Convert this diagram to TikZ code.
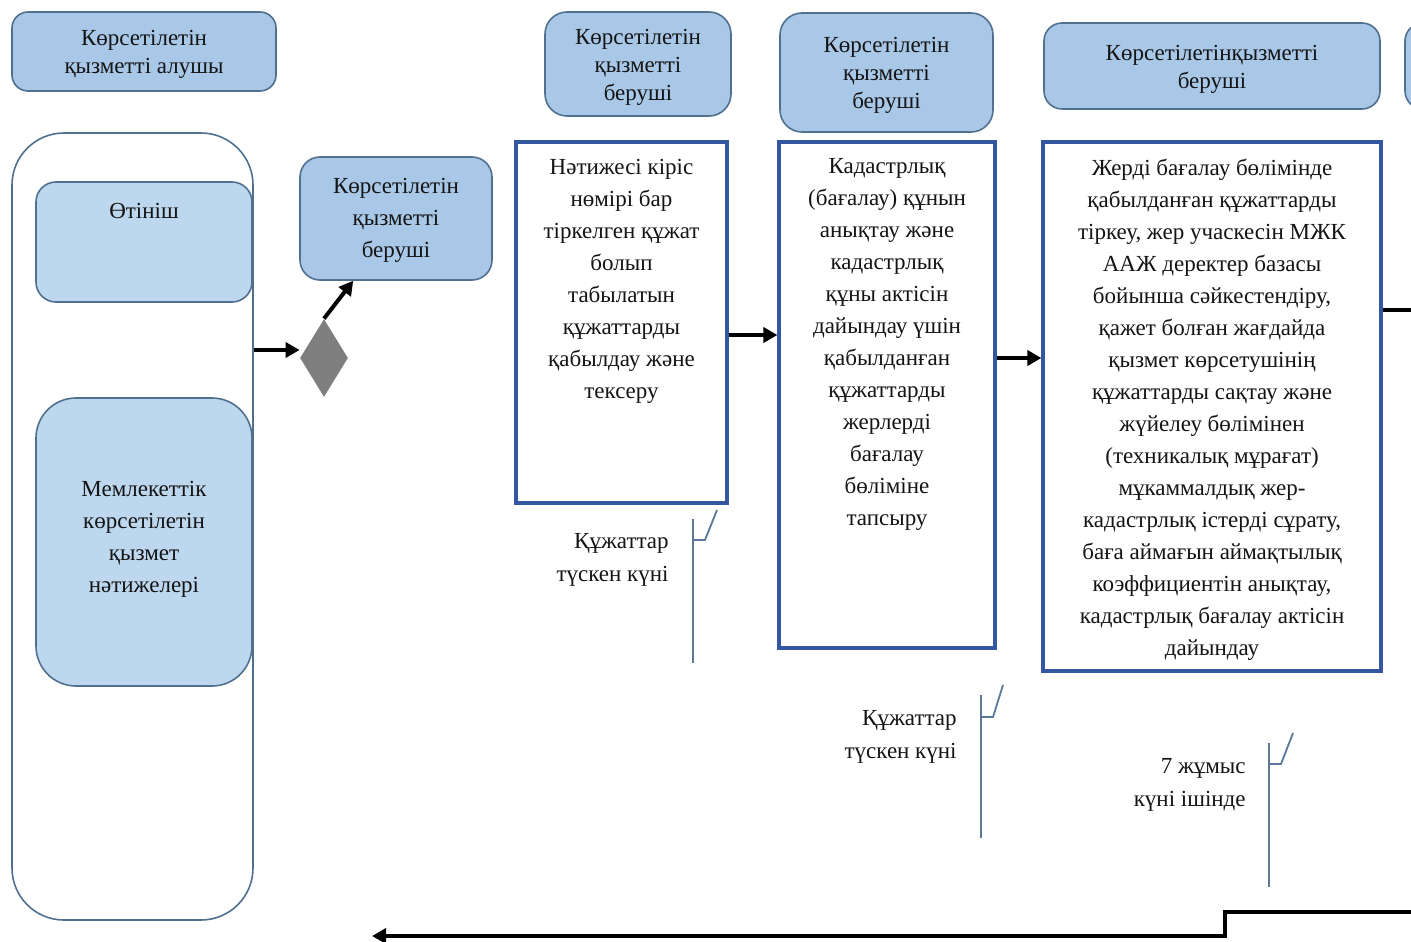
\documentclass[tikz,border=0pt]{standalone}
\usepackage{fontspec}
\setmainfont{Liberation Serif}
\usetikzlibrary{arrows.meta,shapes.geometric,calc}

\definecolor{hdrfill}{HTML}{A9C8E8}
\definecolor{softfill}{HTML}{BDD7EE}
\definecolor{edgegrey}{HTML}{50708F}
\definecolor{stepblue}{HTML}{3556A0}
\definecolor{notegrey}{HTML}{5A7898}
\definecolor{inkdark}{HTML}{141414}
\definecolor{choicegrey}{HTML}{7F7F7F}

\tikzset{
  every node/.style={text=inkdark, font=\fontsize{11.5}{16}\selectfont, inner sep=0pt},
  hdr/.style={draw=edgegrey, line width=0.8pt, fill=hdrfill, rounded corners=9pt, align=center},
  hdrtext/.style={font=\fontsize{11.5}{14}\selectfont},
  soft/.style={draw=edgegrey, line width=0.8pt, fill=softfill, align=center},
  lane/.style={draw=edgegrey, line width=0.8pt, fill=white, rounded corners=26pt},
  stepbox/.style={draw=stepblue, line width=1.6pt, fill=white},
  steptext/.style={align=center, anchor=north},
  flow/.style={draw=black, line width=2pt, -{Triangle[length=7pt,width=7.5pt]}},
  plainflow/.style={draw=black, line width=2pt},
  note/.style={draw=notegrey, line width=0.9pt},
  notetext/.style={align=right, anchor=east, font=\fontsize{11.5}{16.5}\selectfont},
}

\begin{document}
\begin{tikzpicture}[x=0.5pt, y=-0.5pt]
  \useasboundingbox (0,0) rectangle (1411,941);
  \clip (0,0) rectangle (1411,941);

  % lane headers
  \node[hdr, rounded corners=8pt, minimum width=132pt, minimum height=39.5pt] (hA) at (144,51.5) {};
  \node[hdrtext, align=center] (hAt) at ($(hA)+(0,3)$) {Көрсетілетін\\қызметті алушы};
  \node[hdr, rounded corners=11pt, minimum width=93pt, minimum height=52pt] (hB) at (638,64) {};
  \node[hdrtext, align=center] (hBt) at ($(hB)+(0,3)$) {Көрсетілетін\\қызметті\\беруші};
  \node[hdr, rounded corners=11pt, minimum width=106.5pt, minimum height=59.5pt] (hC) at (886.5,72.5) {};
  \node[hdrtext, align=center] (hCt) at ($(hC)+(0,3)$) {Көрсетілетін\\қызметті\\беруші};
  \node[hdr, minimum width=168pt, minimum height=43pt] (hD) at (1212,66) {};
  \node[hdrtext, align=center] (hDt) at ($(hD)+(0,3)$) {Көрсетілетінқызметті\\беруші};
  \node[hdr, minimum width=97pt, minimum height=43pt] (hE) at (1502,66) {};

  % service receiver lane
  \node[lane, minimum width=120.5pt, minimum height=393.5pt] (lane) at (132.5,526.5) {};
  \node[soft, rounded corners=10pt, minimum width=108pt, minimum height=60pt,
        label={[anchor=north, yshift=-11pt]north:Өтініш}] (app) at (144,242) {};
  \node[soft, rounded corners=20pt, minimum width=108pt, minimum height=144pt] (res) at (144,542) {};
  \node[align=center] (rest) at ($(res)+(0,-3)$) {Мемлекеттік\\көрсетілетін\\қызмет\\нәтижелері};

  % decision and first provider
  \node[diamond, fill=choicegrey, draw=none, minimum width=24pt, minimum height=39pt] (dia) at (324,358) {};
  \node[hdr, rounded corners=10pt, minimum width=96pt, minimum height=61.5pt] (prov) at (396,218.5) {};
  \node[align=center] (provt) at ($(prov)+(0,2)$) {Көрсетілетін\\қызметті\\беруші};

  % process steps
  \node[stepbox, minimum width=105.5pt, minimum height=180.5pt] (b1) at (621.5,322.5) {};
  \node[steptext] (t1) at ($(b1.north)+(0,18)$)
       {Нәтижесі кіріс\\нөмірі бар\\тіркелген құжат\\болып\\табылатын\\құжаттарды\\қабылдау және\\тексеру};

  \node[stepbox, minimum width=108pt, minimum height=253pt] (b2) at (887,395) {};
  \node[steptext] (t2) at ($(b2.north)+(0,18)$)
       {Кадастрлық\\(бағалау) құнын\\анықтау және\\кадастрлық\\құны актісін\\дайындау үшін\\қабылданған\\құжаттарды\\жерлерді\\бағалау\\бөліміне\\тапсыру};

  \node[stepbox, minimum width=169pt, minimum height=264.5pt] (b3) at (1212,406.5) {};
  \node[steptext] (t3) at ($(b3.north)+(0,18)$)
       {Жерді бағалау бөлімінде\\қабылданған құжаттарды\\тіркеу, жер учаскесін МЖК\\ААЖ деректер базасы\\бойынша сәйкестендіру,\\қажет болған жағдайда\\қызмет көрсетушінің\\құжаттарды сақтау және\\жүйелеу бөлімінен\\(техникалық мұрағат)\\мұкаммалдық жер-\\кадастрлық істерді сұрату,\\баға аймағын аймақтылық\\коэффициентін анықтау,\\кадастрлық бағалау актісін\\дайындау};

  % connectors
  \draw[flow] (lane.east |- 0,350) -- (dia.west |- 0,350);
  \draw[flow] (dia.north) -- ($(prov.south west)+(54,0)$);
  \draw[flow] (b1.east |- 0,335) -- (b2.west |- 0,335);
  \draw[flow] (b2.east |- 0,358) -- (b3.west |- 0,358);
  \coordinate (outR) at (1420,310);
  \draw[plainflow] (b3.east |- outR) -- (outR);

  % return line along the bottom
  \coordinate (retIn) at (1420,912);
  \coordinate (retStep) at (1225,912);
  \coordinate (retLow) at (1225,936);
  \coordinate (retEnd) at (372,936);
  \draw[flow, line join=miter] (retIn) -- (retStep) -- (retLow) -- (retEnd);

  % time notes
  \coordinate (n1a) at (693,519); \coordinate (n1b) at (693,663);
  \coordinate (n1c) at (693,540); \coordinate (n1d) at (705,540); \coordinate (n1e) at (717,510);
  \draw[note] (n1a) -- (n1b);
  \draw[note] (n1c) -- (n1d) -- (n1e);
  \node[notetext] (k1) at (669,560) {Құжаттар\\түскен күні};

  \coordinate (n2a) at (981,695); \coordinate (n2b) at (981,838);
  \coordinate (n2c) at (981,717); \coordinate (n2d) at (993,717); \coordinate (n2e) at (1003,685);
  \draw[note] (n2a) -- (n2b);
  \draw[note] (n2c) -- (n2d) -- (n2e);
  \node[notetext] (k2) at (957,737) {Құжаттар\\түскен күні};

  \coordinate (n3a) at (1269,743); \coordinate (n3b) at (1269,887);
  \coordinate (n3c) at (1269,764); \coordinate (n3d) at (1281,764); \coordinate (n3e) at (1293,733);
  \draw[note] (n3a) -- (n3b);
  \draw[note] (n3c) -- (n3d) -- (n3e);
  \node[notetext] (k3) at (1246,785) {7 жұмыс\\күні ішінде};
\end{tikzpicture}
\end{document}
